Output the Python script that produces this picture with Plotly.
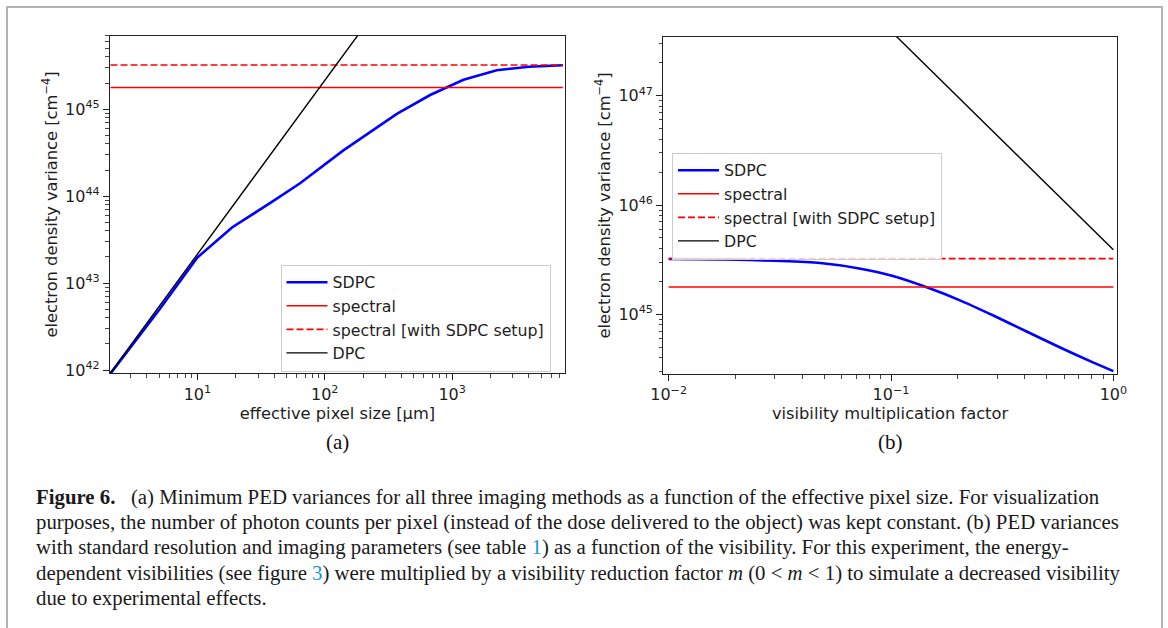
import numpy as np
import plotly.graph_objects as go

W, H = 1168, 628

# ---------------- data: panel (a) ----------------
pixel_size_um = [2.08, 5.0, 10.0, 18.7, 39.0, 64.0, 140.0, 368.0, 672.0, 1228.0, 2240.0, 4000.0, 7400.0]
sdpc_a = [9.1e41, 4.9e42, 1.97e43, 4.37e43, 8.7e43, 1.41e44, 3.37e44, 8.85e44,
          1.46e45, 2.19e45, 2.82e45, 3.09e45, 3.21e45]
dpc_pixel_um = [2.08, 10.0, 100.0, 200.0]
dpc_a = [9.3e41, 2.15e43, 2.15e45, 8.6e45]
spectral_value = 1.78e45
spectral_sdpc_setup_value = 3.23e45

# ---------------- data: panel (b) ----------------
vis_factor = [0.01, 0.018, 0.03, 0.048, 0.072, 0.102, 0.149, 0.203, 0.287, 0.405, 0.573, 0.809, 1.0]
sdpc_b = [3.21e45, 3.18e45, 3.09e45, 2.95e45, 2.63e45, 2.24e45, 1.73e45, 1.35e45,
          9.8e44, 7.0e44, 5.0e44, 3.63e44, 3.02e44]
dpc_vis = [0.1, 1.0]
dpc_b = [3.9e47, 3.9e45]

# ---------------- tick labels ----------------
xa_tickvals = [10, 100, 1000]
xa_ticktext = ["10<sup>1</sup>", "10<sup>2</sup>", "10<sup>3</sup>"]
ya_tickvals = [1e42, 1e43, 1e44, 1e45]
ya_ticktext = ["10<sup>42</sup>", "10<sup>43</sup>", "10<sup>44</sup>", "10<sup>45</sup>"]
xb_tickvals = [0.01, 0.1, 1.0]
xb_ticktext = ["10<sup>\u22122</sup>", "10<sup>\u22121</sup>", "10<sup>0</sup>"]
yb_tickvals = [1e45, 1e46, 1e47]
yb_ticktext = ["10<sup>45</sup>", "10<sup>46</sup>", "10<sup>47</sup>"]

legend_names = ["SDPC", "spectral", "spectral [with SDPC setup]", "DPC"]

caption_lines = [
    "<b>Figure 6.</b>\u2002 (a) Minimum PED variances for all three imaging methods as a function of the effective pixel size. For visualization",
    "purposes, the number of photon counts per pixel (instead of the dose delivered to the object) was kept constant. (b) PED variances",
    "with standard resolution and imaging parameters (see table <span style='color:#1a96d4'>1</span>) as a function of the visibility. For this experiment, the energy-",
    "dependent visibilities (see figure <span style='color:#1a96d4'>3</span>) were multiplied by a visibility reduction factor <i>m</i> (0 &lt; <i>m</i> &lt; 1) to simulate a decreased visibility",
    "due to experimental effects.",
]


def px_x(x):
    return x / W


def px_y(y):
    return 1 - y / H


def minor_vals(lo_exp, hi_exp):
    out = []
    for e in range(lo_exp, hi_exp + 1):
        for m in range(2, 10):
            out.append(m * 10.0 ** e)
    return out


BLUE, RED, BLACK = "#0000ff", "#ff0000", "#000000"
FONT = "DejaVu Sans"
FS = 16.3
LFS = 15.8
TFS = 16
TXT = "#1e1e1e"

fig = go.Figure()

# panel (a)
fig.add_trace(go.Scatter(x=pixel_size_um, y=sdpc_a, mode="lines", name=legend_names[0],
                         line=dict(color=BLUE, width=2.6), xaxis="x", yaxis="y",
                         legend="legend", legendgroup="a1"))
fig.add_trace(go.Scatter(x=[pixel_size_um[0], pixel_size_um[-1]], y=[spectral_value] * 2, mode="lines",
                         name=legend_names[1], line=dict(color=RED, width=1.6), xaxis="x", yaxis="y",
                         legend="legend", legendgroup="a2"))
fig.add_trace(go.Scatter(x=[pixel_size_um[0], pixel_size_um[-1]], y=[spectral_sdpc_setup_value] * 2, mode="lines",
                         name=legend_names[2], line=dict(color=RED, width=1.6, dash="7px,3px"), xaxis="x", yaxis="y",
                         legend="legend", legendgroup="a3"))
fig.add_trace(go.Scatter(x=dpc_pixel_um, y=dpc_a, mode="lines", name=legend_names[3],
                         line=dict(color=BLACK, width=1.4), xaxis="x", yaxis="y",
                         legend="legend", legendgroup="a4"))

# panel (b)
fig.add_trace(go.Scatter(x=vis_factor, y=sdpc_b, mode="lines", name=legend_names[0],
                         line=dict(color=BLUE, width=2.6, shape="spline", smoothing=0.8), xaxis="x2", yaxis="y2",
                         legend="legend2", legendgroup="b1"))
fig.add_trace(go.Scatter(x=[vis_factor[0], vis_factor[-1]], y=[spectral_value] * 2, mode="lines",
                         name=legend_names[1], line=dict(color=RED, width=1.6), xaxis="x2", yaxis="y2",
                         legend="legend2", legendgroup="b2"))
fig.add_trace(go.Scatter(x=[vis_factor[0], vis_factor[-1]], y=[spectral_sdpc_setup_value] * 2, mode="lines",
                         name=legend_names[2], line=dict(color=RED, width=1.6, dash="7px,3px"), xaxis="x2", yaxis="y2",
                         legend="legend2", legendgroup="b3"))
fig.add_trace(go.Scatter(x=dpc_vis, y=dpc_b, mode="lines", name=legend_names[3],
                         line=dict(color=BLACK, width=1.4), xaxis="x2", yaxis="y2",
                         legend="legend2", legendgroup="b4"))

axis_common = dict(type="log", showgrid=False, zeroline=False, showline=True, linecolor="#222222",
                   linewidth=1.2, mirror=True, ticks="outside", ticklen=6, tickwidth=1.1, automargin=False,
                   tickcolor="#222222", tickfont=dict(family=FONT, size=TFS, color=TXT))
minor_common = dict(ticks="outside", ticklen=3.5, tickwidth=0.9, tickcolor="#444444", showgrid=False)
title_font = dict(family=FONT, size=FS, color=TXT)

legend_common = dict(xanchor="left", yanchor="top", bgcolor="rgba(255,255,255,0.8)",
                     bordercolor="#cccccc", borderwidth=1, font=dict(family=FONT, size=LFS, color=TXT),
                     tracegroupgap=0, traceorder="grouped", itemwidth=41)

fig.update_layout(
    width=W, height=H,
    margin=dict(l=0, r=0, t=0, b=0, autoexpand=False),
    paper_bgcolor="white", plot_bgcolor="white",
    font=dict(family=FONT, size=FS, color=TXT),
    xaxis=dict(axis_common, domain=[px_x(110), px_x(565)], range=[0.314, 3.886], anchor="y",
               tickmode="array", tickvals=xa_tickvals, ticktext=xa_ticktext,
               minor=dict(minor_common, tickmode="array", tickvals=minor_vals(0, 3)),
               title=dict(text="effective pixel size [\u03bcm]", standoff=3, font=title_font)),
    yaxis=dict(axis_common, domain=[px_y(373.3), px_y(35.7)], range=[41.962, 45.847], anchor="x",
               tickmode="array", tickvals=ya_tickvals, ticktext=ya_ticktext,
               minor=dict(minor_common, tickmode="array", tickvals=minor_vals(41, 45)),
               title=dict(text="electron density variance [cm<sup>\u22124</sup>]", standoff=3, font=title_font)),
    xaxis2=dict(axis_common, domain=[px_x(663.3), px_x(1116.7)], range=[-2.024, 0.015], anchor="y2",
                tickmode="array", tickvals=xb_tickvals, ticktext=xb_ticktext,
                minor=dict(minor_common, tickmode="array", tickvals=minor_vals(-3, 0)),
                title=dict(text="visibility multiplication factor", standoff=3, font=title_font)),
    yaxis2=dict(axis_common, domain=[px_y(374), px_y(36.7)], range=[44.454, 47.54], anchor="x2",
                tickmode="array", tickvals=yb_tickvals, ticktext=yb_ticktext,
                minor=dict(minor_common, tickmode="array", tickvals=minor_vals(44, 47)),
                title=dict(text="electron density variance [cm<sup>\u22124</sup>]", standoff=3, font=title_font)),
    legend=dict(legend_common, x=px_x(280.5), y=px_y(264.5)),
    legend2=dict(legend_common, x=px_x(672), y=px_y(152.5)),
    showlegend=True,
)

annotations = [
    dict(text="(a)", x=px_x(337.5), y=px_y(442), xref="paper", yref="paper", showarrow=False,
         xanchor="center", yanchor="middle", font=dict(family="Liberation Serif", size=21, color="#111111")),
    dict(text="(b)", x=px_x(890), y=px_y(442), xref="paper", yref="paper", showarrow=False,
         xanchor="center", yanchor="middle", font=dict(family="Liberation Serif", size=21, color="#111111")),
]
for i, line in enumerate(caption_lines):
    annotations.append(dict(text=line, x=px_x(34), y=px_y(497 + 25.2 * i), xref="paper", yref="paper",
                            showarrow=False, xanchor="left", yanchor="middle", align="left",
                            font=dict(family="Liberation Serif", size=20.8, color="#1a1a1a")))
fig.update_layout(annotations=annotations)

fig.add_shape(type="rect", xref="paper", yref="paper", x0=px_x(7), x1=px_x(1162), y0=-0.1, y1=px_y(7),
              line=dict(color="#b4b4b4", width=2), fillcolor="rgba(0,0,0,0)", layer="below")

fig.write_html("out.html")
